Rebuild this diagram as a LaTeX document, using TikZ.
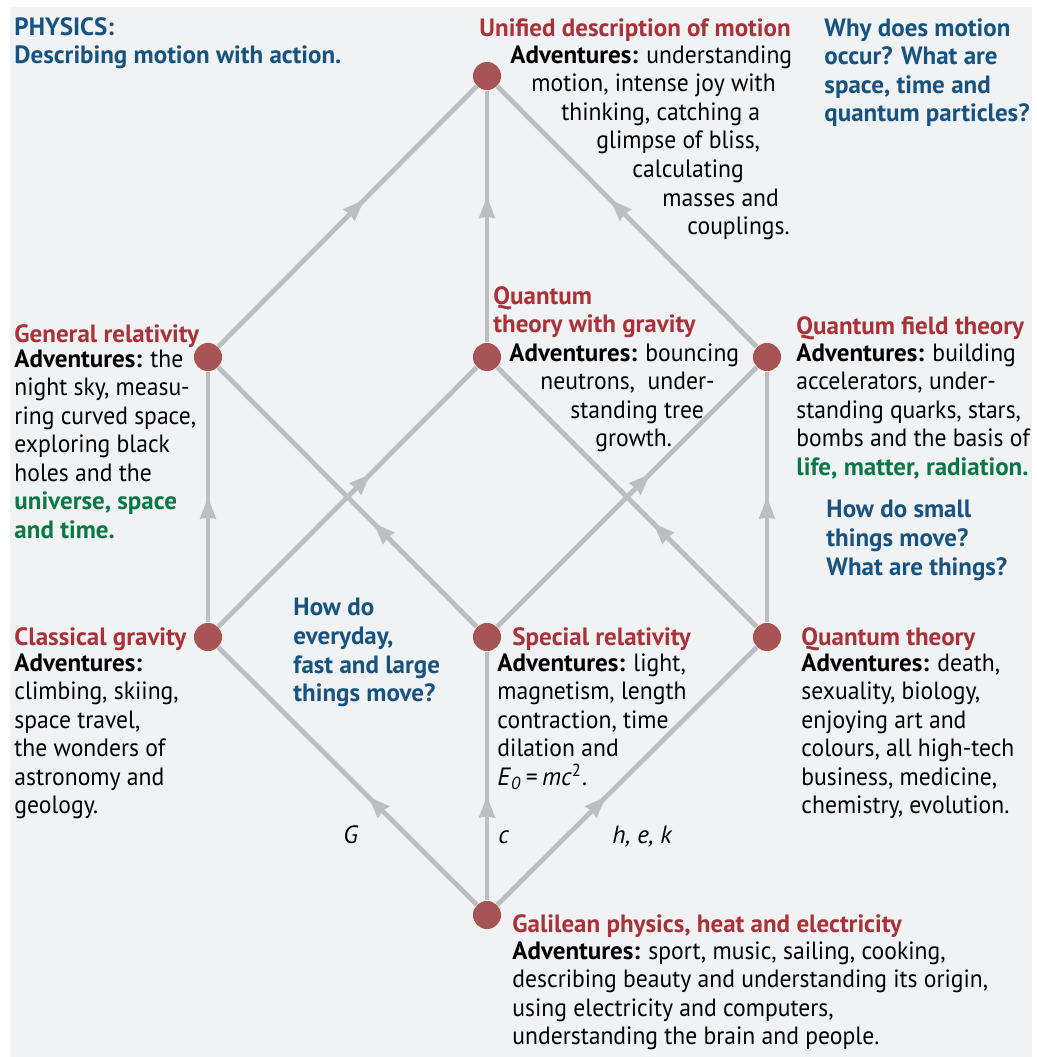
\documentclass[tikz,border=0pt]{standalone}
\usepackage{fontspec}
\setmainfont{PT Sans}[UprightFeatures={FakeStretch=0.945}]
\usepackage{tikz}
\usetikzlibrary{arrows.meta,decorations.markings}
\newlength\px
\setlength\px{0.42pt}
\definecolor{paper}{RGB}{241,242,244}
\definecolor{linegray}{RGB}{189,190,193}
\definecolor{dotred}{RGB}{166,84,86}
\definecolor{titlered}{RGB}{168,50,56}
\definecolor{askblue}{RGB}{23,83,128}
\definecolor{lifegreen}{RGB}{10,120,70}
\newcommand{\life}[1]{{\color{lifegreen}\bfseries #1}}
\tikzset{
	dot/.style={circle,fill=dotred,inner sep=0pt,minimum size=11.8pt},
	link/.style={color=linegray,line width=2pt,line cap=butt},
	midtip/.style={postaction={decorate,decoration={markings,
		mark=at position #1 with {\arrow{Stealth[length=9pt,width=6.5pt,inset=0.5pt]}}}}},
	txt/.style={inner sep=0pt,anchor=north west,align=left,
		font=\fontsize{10.5}{12}\selectfont,execute at begin node=\strut},
	title/.style={txt,text=titlered,font=\fontsize{10.5}{12}\selectfont\bfseries},
	ask/.style={txt,text=askblue,font=\fontsize{10.5}{12}\selectfont\bfseries},
	const/.style={txt,font=\fontsize{10.5}{12}\selectfont\itshape}
}
\begin{document}
\begin{tikzpicture}[x=0.42pt,y=-0.42pt,line join=round]
		\useasboundingbox (0,0) rectangle (1037,1057);
		\fill[paper] (10,7) rectangle (1032,1057);
		% stations
		\node[dot] (top) at (487,76) {};
		\node[dot] (gr) at (208,357) {};
		\node[dot] (qg) at (487,357) {};
		\node[dot] (qft) at (767,357) {};
		\node[dot] (cg) at (208,637) {};
		\node[dot] (sr) at (487,637) {};
		\node[dot] (qt) at (767,637) {};
		\node[dot] (gal) at (487,915) {};
		% links
		\draw[link,midtip=0.42] (gal) -- (cg);
		\draw[link,midtip=0.42] (gal) -- (sr);
		\draw[link,midtip=0.42] (gal) -- (qt);
		\draw[link,midtip=0.5] (cg) -- (gr);
		\draw[link,midtip=0.59] (cg) -- (qg);
		\draw[link,midtip=0.4] (sr) -- (gr);
		\draw[link,midtip=0.59] (sr) -- (qft);
		\draw[link,midtip=0.4] (qt) -- (qg);
		\draw[link,midtip=0.5] (qt) -- (qft);
		\draw[link,midtip=0.565] (gr) -- (top);
		\draw[link,midtip=0.58] (qg) -- (top);
		\draw[link,midtip=0.565] (qft) -- (top);
		% constants
		\node[const] (G) at (343,823) {G};
		\node[const] (c) at (498,823) {c};
		\node[const] (hek) at (612,823) {h, e, k};
		% questions
		\node[ask] (physics) at (14,17) {PHYSICS:\\Describing motion with action.};
		\node[ask] (why) at (824,18) {Why does motion\\occur? What are\\space, time and\\quantum particles?};
		\node[ask] (small) at (826,500) {How do small\\things move?\\What are things?};
		\node[ask] (everyday) at (293,598) {How do\\everyday,\\fast and large\\things move?};
		% top
		\node[title] (top title) at (479,16) {Unified description of motion};
		\node[txt] (top adv) at (510,45) {\textbf{Adventures:} understanding\\
			\hspace*{21\px}motion, intense joy with\\
			\hspace*{51\px}thinking, catching a\\
			\hspace*{86\px}glimpse of bliss,\\
			\hspace*{122\px}calculating\\
			\hspace*{152\px}masses and\\
			\hspace*{177\px}couplings.};
		% middle row
		\node[title] (gr title) at (14,322) {General relativity};
		\node[txt] (gr adv) at (14,349) {\textbf{Adventures:} the\\night sky, measu-\\ring curved space,\\exploring black\\holes and the\\\life{universe, space}\\\life{and time.}};
		\node[title] (qg title) at (493,286) {Quantum\\theory with gravity};
		\node[txt] (qg adv) at (509,343) {\textbf{Adventures:} bouncing\\
			\hspace*{31\px}neutrons,~~under-\\
			\hspace*{61\px}standing tree\\
			\hspace*{86\px}growth.};
		\node[title] (qft title) at (796,314) {Quantum field theory};
		\node[txt] (qft adv) at (796,343) {\textbf{Adventures:} building\\accelerators, under-\\standing quarks, stars,\\bombs and the basis of\\\life{life, matter, radiation.}};
		% bottom row
		\node[title] (cg title) at (14,625) {Classical gravity};
		\node[txt] (cg adv) at (14,653) {\textbf{Adventures:}\\climbing, skiing,\\space travel,\\the wonders of\\astronomy and\\geology.};
		\node[title] (sr title) at (512,625) {Special relativity};
		\node[txt] (sr adv) at (497,653) {\textbf{Adventures:} light,\\magnetism, length\\contraction, time\\dilation and\\\textit{E}\textsubscript{\textit{0}}\,=\,\textit{mc}\textsuperscript{2}.};
		\node[title] (qt title) at (801,625) {Quantum theory};
		\node[txt] (qt adv) at (801,653) {\textbf{Adventures:} death,\\sexuality, biology,\\enjoying art and\\colours, all high-tech\\business, medicine,\\chemistry, evolution.};
		% ground
		\node[title] (gal title) at (512,912) {Galilean physics, heat and electricity};
		\node[txt] (gal adv) at (512,941) {\textbf{Adventures:} sport, music, sailing, cooking,\\describing beauty and understanding its origin,\\using electricity and computers,\\understanding the brain and people.};
\end{tikzpicture}
\end{document}
